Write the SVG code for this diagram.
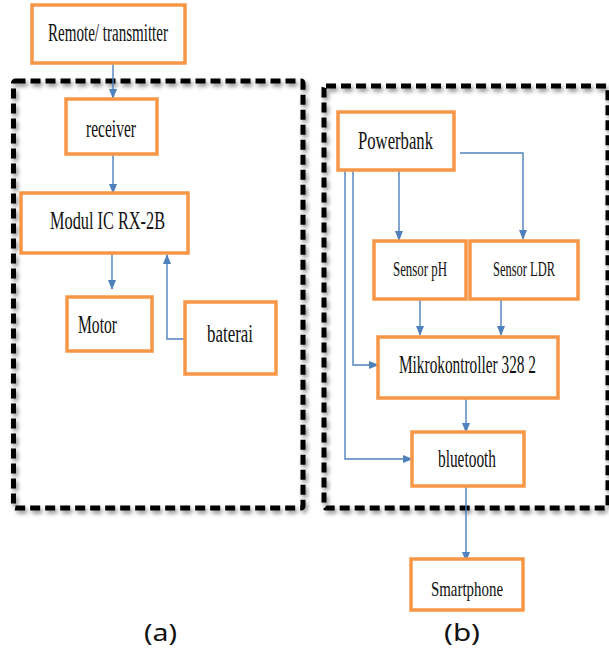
<svg xmlns="http://www.w3.org/2000/svg" width="609" height="654" viewBox="0 0 609 654">
<defs>
<filter id="sh" x="-5%" y="-5%" width="110%" height="110%">
<feGaussianBlur in="SourceAlpha" stdDeviation="2"/>
<feOffset dx="2" dy="3" result="b"/>
<feComponentTransfer><feFuncA type="linear" slope="0.45"/></feComponentTransfer>
<feMerge><feMergeNode/><feMergeNode in="SourceGraphic"/></feMerge>
</filter>
<marker id="ah" markerWidth="10" markerHeight="10" refX="9" refY="5" orient="auto" markerUnits="userSpaceOnUse">
<path d="M0,1 L10,5 L0,9 Z" fill="#4F81BD"/>
</marker>
</defs>
<style>
.frame{fill:none;stroke:#000;stroke-width:5;stroke-dasharray:10 5}
.box{fill:#fff;stroke:#F79646;stroke-width:3.5}
.t{font-family:"Liberation Serif","Times New Roman",serif;font-size:25px;fill:#111}
.s{font-size:22px}
.c{fill:none;stroke:#4F81BD;stroke-width:1.4}
.cap{font-family:"Noto Sans","DejaVu Sans",sans-serif;font-size:23px;fill:#111}
</style>
<g id="frame-a" filter="url(#sh)"><rect class="frame" x="13.5" y="81" width="289.5" height="427" rx="2"/></g>
<g id="frame-b" filter="url(#sh)"><rect class="frame" x="324" y="86" width="284" height="422" rx="2"/></g>

<g id="connectors">
<line class="c" x1="113" y1="63" x2="113" y2="98" marker-end="url(#ah)"/>
<line class="c" x1="113" y1="154" x2="113" y2="193" marker-end="url(#ah)"/>
<line class="c" x1="112" y1="253" x2="112" y2="289" marker-end="url(#ah)"/>
<polyline class="c" points="185,339 167,339 167,255" marker-end="url(#ah)"/>
<line class="c" x1="399" y1="164" x2="399" y2="240" marker-end="url(#ah)"/>
<polyline class="c" points="460,153 523,153 523,239" marker-end="url(#ah)"/>
<polyline class="c" points="353,170 353,365 378,365" marker-end="url(#ah)"/>
<polyline class="c" points="345,170 345,459 412,459" marker-end="url(#ah)"/>
<line class="c" x1="420" y1="299" x2="420" y2="335" marker-end="url(#ah)"/>
<line class="c" x1="501" y1="299" x2="501" y2="335" marker-end="url(#ah)"/>
<line class="c" x1="466" y1="398" x2="466" y2="432" marker-end="url(#ah)"/>
<line class="c" x1="466" y1="486" x2="466" y2="561" marker-end="url(#ah)"/>
</g>

<g id="remote"><rect class="box" x="32" y="5" width="153" height="58"/><text class="t" x="48" y="41" textLength="120" lengthAdjust="spacingAndGlyphs">Remote/ transmitter</text></g>
<g id="receiver"><rect class="box" x="66" y="99" width="91" height="55"/><text class="t" x="86" y="137" textLength="50" lengthAdjust="spacingAndGlyphs">receiver</text></g>
<g id="modul"><rect class="box" x="21" y="193" width="167" height="60"/><text class="t" x="50" y="229" textLength="115" lengthAdjust="spacingAndGlyphs">Modul IC RX-2B</text></g>
<g id="motor"><rect class="box" x="67" y="297" width="85" height="54"/><text class="t" x="78" y="333" textLength="39" lengthAdjust="spacingAndGlyphs">Motor</text></g>
<g id="baterai"><rect class="box" x="185" y="302" width="91" height="72"/><text class="t" x="207" y="342" textLength="46" lengthAdjust="spacingAndGlyphs">baterai</text></g>

<g id="powerbank"><rect class="box" x="338" y="112" width="116" height="58"/><text class="t" x="358" y="149" textLength="75" lengthAdjust="spacingAndGlyphs">Powerbank</text></g>
<g id="sensor-ph"><rect class="box" x="374" y="241" width="92" height="58"/><text class="t s" x="393" y="276" textLength="54" lengthAdjust="spacingAndGlyphs">Sensor pH</text></g>
<g id="sensor-ldr"><rect class="box" x="470" y="241" width="108" height="58"/><text class="t s" x="493" y="276" textLength="62" lengthAdjust="spacingAndGlyphs">Sensor LDR</text></g>
<g id="mikro"><rect class="box" x="378" y="337" width="180" height="61"/><text class="t" transform="translate(399,373) scale(0.613,1)" x="0" y="0">Mikrokontroller 328 2</text></g>
<g id="bluetooth"><rect class="box" x="412" y="432" width="112" height="54"/><text class="t" x="438" y="467" textLength="58" lengthAdjust="spacingAndGlyphs">bluetooth</text></g>
<g id="smartphone"><rect class="box" x="411" y="559" width="112" height="51"/><text class="t s" x="431" y="596" textLength="72" lengthAdjust="spacingAndGlyphs">Smartphone</text></g>

<text class="cap" x="144" y="641" textLength="33" lengthAdjust="spacingAndGlyphs">(a)</text>
<text class="cap" x="444" y="641" textLength="36" lengthAdjust="spacingAndGlyphs">(b)</text>
</svg>
